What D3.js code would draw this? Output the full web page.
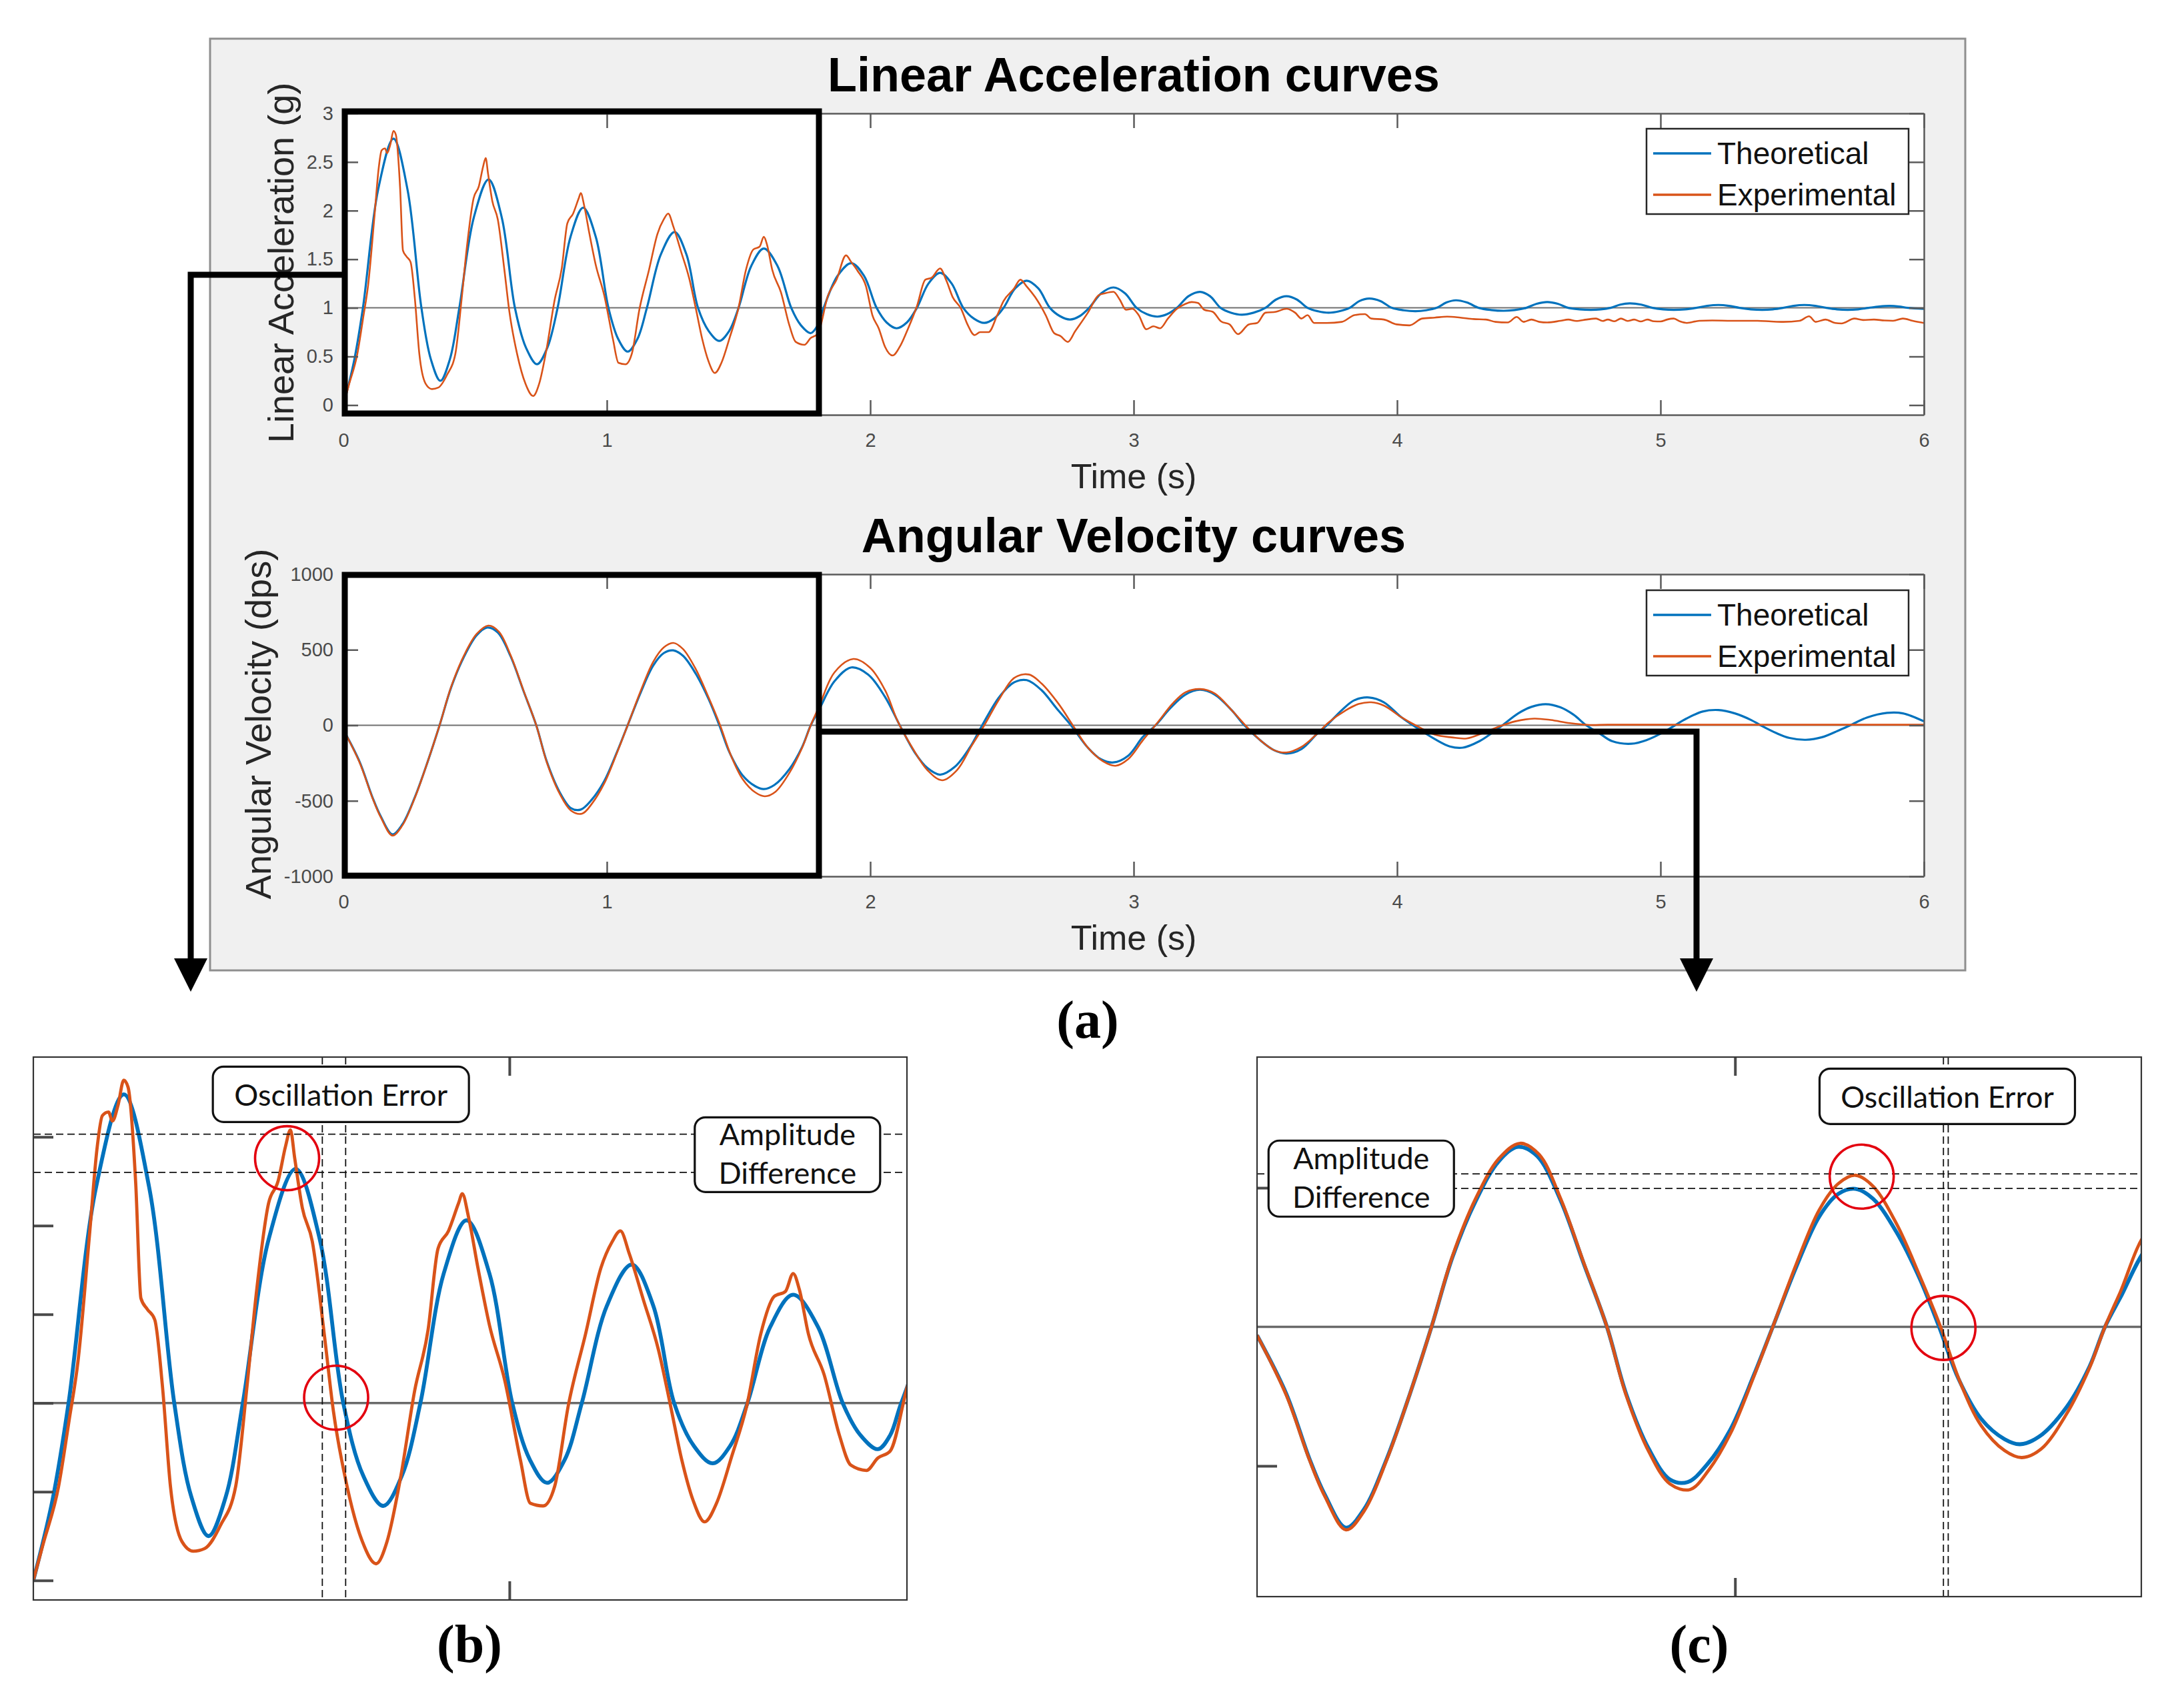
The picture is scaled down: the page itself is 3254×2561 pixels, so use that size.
<!DOCTYPE html>
<html><head><meta charset="utf-8">
<script src="https://cdn.jsdelivr.net/npm/d3@7"></script>
<style>body{margin:0;background:#fff}svg{display:block}</style>
</head><body>
<svg id="fig" width="3254" height="2561"></svg>
<script>
// ---------------- DATA ----------------
const timeTicks = [0, 1, 2, 3, 4, 5, 6];
const accTicks = [0, 0.5, 1, 1.5, 2, 2.5, 3];
const velTicks = [-1000, -500, 0, 500, 1000];
const zoomAccTicks = [0, 0.5, 1, 1.5, 2, 2.5];
const zoomVelTicks = [-500, 500];
const zoomTimeTicks = [1];
const legendLabels = ["Theoretical", "Experimental"];
const seriesColors = ["#0072BD", "#D95319"];
const plotTitles = ["Linear Acceleration curves", "Angular Velocity curves"];
const axisLabels = ["Linear Acceleration (g)", "Angular Velocity (dps)", "Time (s)"];
const panelLabels = ["(a)", "(b)", "(c)"];
const annotationTexts = [["Oscillation Error"], ["Amplitude", "Difference"]];

const accTheoretical = [
[0,0.0],[0.04,0.45],[0.074,1.0],[0.132,2.22],[0.19,2.74],[0.243,2.22],[0.296,1.0],[0.332,0.47],[0.368,0.25],[0.404,0.47],[0.44,1.0],
[0.495,1.93],[0.551,2.32],[0.601,1.93],[0.651,1.0],[0.693,0.59],[0.735,0.42],[0.774,0.59],[0.813,1.0],[0.862,1.73],[0.91,2.03],
[0.958,1.73],[1.006,1.0],[1.043,0.68],[1.079,0.55],[1.116,0.68],[1.152,1.0],[1.205,1.55],[1.257,1.78],[1.302,1.55],[1.346,1.0],
[1.387,0.76],[1.427,0.66],[1.464,0.76],[1.50,1.0],[1.548,1.43],[1.596,1.61],[1.648,1.43],[1.70,1.0],[1.737,0.82],[1.774,0.74],
[1.80,0.82],[1.823,1.0],[1.876,1.33],[1.928,1.46],[1.976,1.33],[2.024,1.0],[2.062,0.85],[2.10,0.79],[2.139,0.85],[2.177,1.0],
[2.221,1.25],[2.265,1.36],[2.309,1.25],[2.353,1.0],[2.393,0.89],[2.433,0.845],[2.47,0.89],[2.506,1.0],[2.55,1.2],[2.594,1.28],
[2.638,1.2],[2.682,1.0],[2.72,0.915],[2.758,0.88],[2.795,0.915],[2.831,1.0],[2.877,1.15],[2.923,1.21],[2.967,1.15],[3.011,1.0],
[3.05,0.935],[3.09,0.91],[3.127,0.935],[3.164,1.0],[3.208,1.12],[3.252,1.165],[3.29,1.12],[3.33,1.0],[3.37,0.95],[3.41,0.93],
[3.455,0.95],[3.50,1.0],[3.54,1.085],[3.58,1.12],[3.62,1.085],[3.66,1.0],[3.70,0.965],[3.74,0.95],[3.78,0.965],[3.82,1.0],
[3.857,1.07],[3.894,1.096],[3.937,1.07],[3.98,1.0],[4.025,0.975],[4.07,0.966],[4.11,0.975],[4.15,1.0],[4.187,1.055],[4.223,1.078],
[4.265,1.055],[4.31,1.0],[4.357,0.978],[4.405,0.97],[4.447,0.978],[4.49,1.0],[4.53,1.042],[4.57,1.06],[4.61,1.042],[4.65,1.0],
[4.693,0.985],[4.736,0.98],[4.773,0.985],[4.81,1.0],[4.847,1.033],[4.883,1.046],[4.927,1.033],[4.97,1.0],[5.01,0.985],[5.05,0.98],
[5.093,0.985],[5.135,1.0],[5.177,1.021],[5.22,1.03],[5.26,1.021],[5.30,1.0],[5.343,0.985],[5.387,0.98],[5.426,0.985],[5.465,1.0],
[5.505,1.021],[5.546,1.03],[5.588,1.021],[5.63,1.0],[5.67,0.985],[5.71,0.98],[5.75,0.985],[5.79,1.0],[5.83,1.014],[5.87,1.02],
[5.905,1.014],[5.94,1.0],[6.0,0.99]
];

const accExperimental = [
[0,0.0],[0.02,0.2],[0.053,0.53],[0.075,0.9],[0.094,1.24],[0.118,1.95],[0.134,2.44],[0.145,2.62],[0.158,2.64],[0.166,2.59],
[0.178,2.68],[0.19,2.82],[0.199,2.78],[0.215,2.24],[0.226,1.59],[0.239,1.53],[0.255,1.47],[0.271,1.10],[0.288,0.53],[0.312,0.22],
[0.336,0.165],[0.36,0.18],[0.393,0.31],[0.425,0.53],[0.449,1.10],[0.468,1.61],[0.494,2.125],[0.514,2.25],[0.53,2.45],[0.54,2.54],
[0.549,2.38],[0.565,2.10],[0.586,1.91],[0.611,1.39],[0.63,0.96],[0.659,0.53],[0.691,0.22],[0.72,0.094],[0.743,0.22],[0.772,0.59],
[0.801,1.07],[0.829,1.41],[0.85,1.87],[0.872,1.97],[0.893,2.125],[0.901,2.18],[0.914,2.05],[0.934,1.76],[0.958,1.44],[0.99,1.13],
[1.023,0.68],[1.044,0.435],[1.071,0.42],[1.095,0.53],[1.124,0.99],[1.16,1.39],[1.192,1.76],[1.216,1.91],[1.233,1.97],[1.252,1.84],
[1.281,1.585],[1.313,1.30],[1.338,0.99],[1.362,0.68],[1.386,0.45],[1.41,0.33],[1.435,0.435],[1.467,0.70],[1.499,0.99],[1.528,1.39],
[1.556,1.60],[1.58,1.63],[1.596,1.73],[1.609,1.64],[1.628,1.39],[1.661,1.16],[1.693,0.82],[1.717,0.65],[1.75,0.62],[1.774,0.69],
[1.80,0.73],[1.84,1.13],[1.872,1.29],[1.908,1.54],[1.928,1.47],[1.952,1.38],[1.984,1.22],[2.008,0.925],[2.032,0.79],[2.056,0.60],
[2.085,0.51],[2.112,0.60],[2.144,0.79],[2.177,1.016],[2.209,1.29],[2.233,1.31],[2.265,1.405],[2.289,1.28],[2.313,1.11],[2.345,0.99],
[2.369,0.83],[2.396,0.72],[2.417,0.75],[2.449,0.75],[2.482,0.925],[2.506,1.07],[2.546,1.20],[2.57,1.29],[2.594,1.22],[2.626,1.11],
[2.666,0.925],[2.698,0.74],[2.722,0.71],[2.75,0.65],[2.778,0.76],[2.826,0.95],[2.867,1.13],[2.891,1.15],[2.923,1.165],[2.947,1.085],
[2.971,0.98],[2.995,0.99],[3.019,0.925],[3.048,0.78],[3.075,0.81],[3.10,0.79],[3.13,0.89],[3.164,0.99],[3.196,1.04],[3.22,1.06],
[3.244,1.05],[3.268,0.98],[3.30,0.96],[3.332,0.86],[3.364,0.83],[3.396,0.73],[3.437,0.83],[3.469,0.845],[3.50,0.95],[3.54,0.96],
[3.58,0.99],[3.613,0.95],[3.637,0.89],[3.66,0.925],[3.685,0.845],[3.733,0.845],[3.79,0.856],[3.838,0.925],[3.878,0.936],[3.902,0.89],
[3.95,0.88],[3.998,0.83],[4.047,0.82],[4.095,0.89],[4.143,0.90],[4.19,0.91],[4.24,0.90],[4.29,0.885],[4.337,0.88],[4.374,0.856],
[4.42,0.85],[4.454,0.906],[4.48,0.856],[4.51,0.88],[4.54,0.856],[4.57,0.85],[4.62,0.867],[4.65,0.88],[4.68,0.865],[4.72,0.88],
[4.755,0.89],[4.78,0.865],[4.80,0.88],[4.825,0.862],[4.85,0.89],[4.875,0.865],[4.90,0.88],[4.925,0.86],[4.95,0.88],[4.975,0.862],
[5.0,0.86],[5.025,0.88],[5.05,0.89],[5.075,0.86],[5.10,0.845],[5.147,0.867],[5.196,0.87],[5.27,0.867],[5.368,0.867],[5.42,0.86],
[5.466,0.856],[5.528,0.867],[5.564,0.913],[5.589,0.856],[5.626,0.88],[5.663,0.845],[5.687,0.84],[5.736,0.89],[5.77,0.875],[5.81,0.88],
[5.85,0.87],[5.883,0.867],[5.92,0.89],[5.957,0.867],[6.0,0.845]
];

const velTheoretical = [
[0,-30],[0.061,-240],[0.11,-476],[0.142,-604],[0.186,-722],[0.223,-658],[0.271,-476],[0.32,-240],[0.365,0],[0.409,251],
[0.457,451],[0.506,596],[0.546,647],[0.586,614],[0.635,455],[0.684,225],[0.732,0],[0.772,-240],[0.82,-440],[0.864,-549],
[0.901,-558],[0.942,-494],[0.99,-370],[1.039,-175],[1.079,0],[1.128,215],[1.176,396],[1.216,478],[1.252,496],[1.289,460],
[1.338,340],[1.386,175],[1.427,0],[1.467,-185],[1.515,-331],[1.564,-404],[1.596,-422],[1.636,-395],[1.693,-290],[1.741,-145],
[1.774,0],[1.806,105],[1.864,291],[1.928,383],[1.992,336],[2.056,188],[2.112,0],[2.169,-180],[2.217,-283],[2.265,-327],
[2.321,-275],[2.377,-150],[2.425,0],[2.49,188],[2.546,284],[2.594,299],[2.65,233],[2.706,115],[2.762,0],[2.827,-150],
[2.875,-224],[2.923,-246],[2.979,-202],[3.035,-77],[3.083,0],[3.14,115],[3.196,203],[3.252,235],[3.308,203],[3.372,100],
[3.42,0],[3.485,-106],[3.533,-165],[3.58,-187],[3.637,-157],[3.693,-62],[3.733,0],[3.79,100],[3.838,166],[3.894,184],
[3.95,152],[4.014,56],[4.06,0],[4.143,-91],[4.20,-140],[4.25,-148],[4.313,-105],[4.362,-49],[4.40,0],[4.46,79],
[4.51,122],[4.564,140],[4.62,119],[4.67,70],[4.718,0],[4.767,-52],[4.816,-105],[4.89,-122],[4.95,-96],[5.0,-56],
[5.055,0],[5.098,44],[5.16,91],[5.22,101],[5.282,79],[5.344,35],[5.38,0],[5.44,-52],[5.49,-84],[5.552,-96],
[5.613,-79],[5.675,-35],[5.72,0],[5.785,52],[5.86,82],[5.92,79],[6.0,26]
];

const velExperimental = [
[0,-30],[0.061,-245],[0.11,-480],[0.142,-610],[0.186,-730],[0.223,-665],[0.271,-480],[0.32,-240],[0.365,0],[0.409,255],
[0.457,460],[0.506,605],[0.55,660],[0.59,620],[0.635,462],[0.684,228],[0.732,0],[0.772,-245],[0.82,-450],[0.864,-565],
[0.906,-585],[0.945,-515],[0.99,-385],[1.039,-180],[1.079,0],[1.128,225],[1.176,420],[1.216,515],[1.252,545],[1.289,505],
[1.338,370],[1.386,185],[1.43,0],[1.47,-195],[1.515,-355],[1.564,-445],[1.60,-470],[1.64,-440],[1.693,-315],[1.741,-150],
[1.774,0],[1.806,125],[1.864,350],[1.936,439],[2.0,380],[2.056,233],[2.104,27],[2.16,-150],[2.217,-297],[2.273,-364],
[2.329,-297],[2.385,-135],[2.433,0],[2.49,174],[2.546,313],[2.602,336],[2.65,277],[2.714,144],[2.77,-3],[2.827,-150],
[2.883,-238],[2.931,-268],[2.979,-224],[3.035,-99],[3.091,19],[3.148,144],[3.196,218],[3.252,240],[3.308,210],[3.372,100],
[3.429,-10],[3.485,-106],[3.533,-165],[3.58,-180],[3.637,-143],[3.693,-62],[3.74,19],[3.806,100],[3.854,141],[3.902,152],
[3.95,130],[4.014,56],[4.07,0],[4.143,-62],[4.207,-80],[4.264,-87],[4.325,-52],[4.387,-9],[4.448,26],[4.52,44],
[4.583,35],[4.656,14],[4.73,2],[4.8,4],[5.0,4],[5.5,4],[6.0,4]
];

// annotation readings (panel b: acceleration, panel c: angular velocity)
const accAmplitudeLines = [2.515, 2.30];
const accOscillationLines = [0.607, 0.656];
const accCircles = [[0.533, 2.38], [0.636, 1.03]];
const velAmplitudeLines = [550, 498];
const velOscillationLines = [1.436, 1.446];
const velCircles = [[1.265, 540], [1.436, -4]];

// ---------------- DRAWING ----------------
const FONT = "'Liberation Sans', Arial, Helvetica, sans-serif";
const SERIF = "'Liberation Serif', 'Times New Roman', serif";
const CAL = "Lato, 'Open Sans', sans-serif";
const svg = d3.select("#fig");
const defs = svg.append("defs");
const smooth = d3.curveCatmullRom.alpha(0.5);

svg.append("rect").attr("x", 315).attr("y", 58).attr("width", 2632).attr("height", 1397)
  .attr("fill", "#f0f0f0").attr("stroke", "#8f8f8f").attr("stroke-width", 3);

function styleAxis(sel, showText) {
  sel.select(".domain").attr("stroke", "#5a5a5a").attr("stroke-width", 2.5);
  sel.selectAll(".tick line").attr("stroke", "#5a5a5a").attr("stroke-width", 2.5);
  sel.selectAll(".tick text").attr("fill", "#4a4a4a")
    .style("font-family", FONT).style("font-size", "29px");
  if (!showText) sel.selectAll(".tick text").remove();
}

function mainPlot(o) {
  const L = 515, R = 2885;
  const x = d3.scaleLinear().domain([0, 6]).range([L, R]);
  const y = d3.scaleLinear().domain(o.yDomain).range([o.bottom, o.top]);
  const g = svg.append("g");
  g.append("rect").attr("x", L).attr("y", o.top).attr("width", R - L).attr("height", o.bottom - o.top).attr("fill", "#fff");
  const cid = "clip-" + o.key;
  defs.append("clipPath").attr("id", cid).append("rect")
    .attr("x", L).attr("y", o.top).attr("width", R - L).attr("height", o.bottom - o.top);
  g.append("line").attr("x1", L).attr("x2", R).attr("y1", y(o.ref)).attr("y2", y(o.ref))
    .attr("stroke", "#707070").attr("stroke-width", 2);
  [o.theo, o.expt].forEach((s, i) => {
    const line = d3.line().x(d => x(d[0])).y(d => y(d[1])).curve(o.curves[i]);
    g.append("path").datum(s).attr("d", line).attr("fill", "none")
      .attr("stroke", seriesColors[i]).attr("stroke-width", i ? 2.6 : 3.2)
      .attr("stroke-linejoin", "round").attr("clip-path", `url(#${cid})`);
  });
  const fmt = d => String(d);
  g.append("g").attr("transform", `translate(0,${o.bottom})`)
    .call(d3.axisBottom(x).tickValues(timeTicks).tickFormat(fmt).tickSizeInner(-22).tickSizeOuter(0).tickPadding(27))
    .call(s => styleAxis(s, true));
  g.append("g").attr("transform", `translate(0,${o.top})`)
    .call(d3.axisTop(x).tickValues(timeTicks).tickSizeInner(-22).tickSizeOuter(0))
    .call(s => styleAxis(s, false));
  g.append("g").attr("transform", `translate(${L},0)`)
    .call(d3.axisLeft(y).tickValues(o.yTicks).tickFormat(fmt).tickSizeInner(-22).tickSizeOuter(0).tickPadding(15))
    .call(s => styleAxis(s, true));
  g.append("g").attr("transform", `translate(${R},0)`)
    .call(d3.axisRight(y).tickValues(o.yTicks).tickSizeInner(-22).tickSizeOuter(0))
    .call(s => styleAxis(s, false));

  // legend
  const lg = g.append("g");
  lg.append("rect").attr("x", 2469).attr("y", o.legendTop).attr("width", 393).attr("height", 128)
    .attr("fill", "#fff").attr("stroke", "#262626").attr("stroke-width", 2.5);
  legendLabels.forEach((lab, i) => {
    const cy = o.legendTop + 37 + i * 62;
    lg.append("line").attr("x1", 2479).attr("x2", 2566).attr("y1", cy).attr("y2", cy)
      .attr("stroke", seriesColors[i]).attr("stroke-width", 3.5);
    lg.append("text").attr("x", 2575).attr("y", cy + 16).text(lab)
      .style("font-family", FONT).style("font-size", "46px").attr("fill", "#111");
  });

  // title and labels
  g.append("text").attr("x", (L + R) / 2).attr("y", o.top - 33).attr("text-anchor", "middle")
    .text(o.title).style("font-family", FONT).style("font-size", "72px").style("font-weight", "bold").attr("fill", "#000");
  g.append("text").attr("x", (L + R) / 2).attr("y", o.bottom + 110).attr("text-anchor", "middle")
    .text(axisLabels[2]).style("font-family", FONT).style("font-size", "52px").attr("fill", "#262626");
  g.append("text").attr("transform", `translate(${o.ylabelX},${(o.top + o.bottom) / 2 - 2}) rotate(-90)`)
    .attr("text-anchor", "middle").text(o.ylabel)
    .style("font-family", FONT).style("font-size", "54px").attr("fill", "#262626");
  return { x, y };
}

const accCurves = [smooth, d3.curveMonotoneX];
const velCurves = [smooth, smooth];

const p1 = mainPlot({ key: "acc", top: 170, bottom: 622, yDomain: [-0.1, 3], yTicks: accTicks, ref: 1, curves: accCurves,
  theo: accTheoretical, expt: accExperimental, title: plotTitles[0], ylabel: axisLabels[0], ylabelX: 440, legendTop: 193 });
const p2 = mainPlot({ key: "vel", top: 861, bottom: 1314, yDomain: [-1000, 1000], yTicks: velTicks, ref: 0, curves: velCurves,
  theo: velTheoretical, expt: velExperimental, title: plotTitles[1], ylabel: axisLabels[1], ylabelX: 406, legendTop: 885 });

// highlight boxes and arrows
const ov = svg.append("g").attr("fill", "none").attr("stroke", "#000").attr("stroke-width", 9);
ov.append("rect").attr("x", p1.x(0) + 2).attr("y", 167).attr("width", 711).attr("height", 453);
ov.append("rect").attr("x", p2.x(0) + 2).attr("y", 862).attr("width", 711).attr("height", 451);
ov.append("path").attr("d", `M${p1.x(0) + 2},412 H286 V1442`);
ov.append("path").attr("d", `M1229,1097 H2544 V1442`);
svg.append("path").attr("d", "M261,1437 L311,1437 L286,1487 Z").attr("fill", "#000");
svg.append("path").attr("d", "M2519,1437 L2569,1437 L2544,1487 Z").attr("fill", "#000");

// ---------------- ZOOM PANELS ----------------
function zoomPanel(o) {
  const x = d3.scaleLinear().domain(o.xDomain).range([o.x0, o.x1]);
  const y = d3.scaleLinear().domain(o.yDomain).range([o.y1, o.y0]);
  const W = o.x1 - o.x0, H = o.y1 - o.y0;
  const g = svg.append("g");
  g.append("rect").attr("x", o.x0).attr("y", o.y0).attr("width", W).attr("height", H).attr("fill", "#fff");
  const cid = "clip-" + o.key;
  defs.append("clipPath").attr("id", cid).append("rect").attr("x", o.x0).attr("y", o.y0).attr("width", W).attr("height", H);
  g.append("line").attr("x1", o.x0).attr("x2", o.x1).attr("y1", y(o.ref)).attr("y2", y(o.ref))
    .attr("stroke", "#6a6a6a").attr("stroke-width", 3.5);
  [o.theo, o.expt].forEach((s, i) => {
    const line = d3.line().x(d => x(d[0])).y(d => y(d[1])).curve(o.curves[i]);
    g.append("path").datum(s).attr("d", line).attr("fill", "none")
      .attr("stroke", seriesColors[i]).attr("stroke-width", i ? 4.8 : 5.8)
      .attr("stroke-linejoin", "round").attr("clip-path", `url(#${cid})`);
  });
  // dashed guide lines
  o.amp.forEach(v => g.append("line").attr("x1", o.x0).attr("x2", o.x1).attr("y1", y(v)).attr("y2", y(v))
    .attr("stroke", "#111").attr("stroke-width", 1.8).attr("stroke-dasharray", "11,6"));
  o.osc.forEach(t => g.append("line").attr("x1", x(t)).attr("x2", x(t)).attr("y1", o.y0).attr("y2", o.y1)
    .attr("stroke", "#111").attr("stroke-width", 1.8).attr("stroke-dasharray", "11,6"));
  // ticks
  const none = () => "";
  const tickStyle = s => { s.select(".domain").remove(); s.selectAll(".tick line").attr("stroke", "#4a4a4a").attr("stroke-width", 4); };
  g.append("g").attr("transform", `translate(${o.x0},0)`)
    .call(d3.axisLeft(y).tickValues(o.yTicks).tickFormat(none).tickSizeInner(-30).tickSizeOuter(0)).call(tickStyle);
  g.append("g").attr("transform", `translate(0,${o.y0})`)
    .call(d3.axisTop(x).tickValues(zoomTimeTicks).tickFormat(none).tickSizeInner(-28).tickSizeOuter(0)).call(tickStyle);
  g.append("g").attr("transform", `translate(0,${o.y1})`)
    .call(d3.axisBottom(x).tickValues(zoomTimeTicks).tickFormat(none).tickSizeInner(-28).tickSizeOuter(0)).call(tickStyle);
  g.append("rect").attr("x", o.x0).attr("y", o.y0).attr("width", W).attr("height", H)
    .attr("fill", "none").attr("stroke", "#333").attr("stroke-width", 2.2);
  // text boxes
  o.boxes.forEach(b => {
    const cx = x(b.t), cy = y(b.v);
    g.append("rect").attr("x", cx - b.w / 2).attr("y", cy - b.h / 2).attr("width", b.w).attr("height", b.h)
      .attr("rx", 16).attr("fill", "#fff").attr("stroke", "#111").attr("stroke-width", 3.2);
    const lines = annotationTexts[b.idx];
    lines.forEach((s, k) => {
      const yy = lines.length === 1 ? cy + 17 : cy - 14 + k * 58;
      g.append("text").attr("x", cx).attr("y", yy).attr("text-anchor", "middle").text(s)
        .style("font-family", CAL).style("font-size", "45px").attr("fill", "#111");
    });
  });
  // red circles
  o.circles.forEach(c => g.append("circle").attr("cx", x(c[0])).attr("cy", y(c[1])).attr("r", 48)
    .attr("fill", "none").attr("stroke", "#e3000f").attr("stroke-width", 3.6));
}

zoomPanel({ key: "b", x0: 50, x1: 1360, y0: 1585, y1: 2399, xDomain: [0, 1.835], yDomain: [-0.11, 2.95],
  theo: accTheoretical, expt: accExperimental, ref: 1, yTicks: zoomAccTicks, curves: accCurves,
  amp: accAmplitudeLines, osc: accOscillationLines, circles: accCircles,
  boxes: [{ idx: 0, t: 0.646, v: 2.74, w: 384, h: 83 }, { idx: 1, t: 1.584, v: 2.40, w: 278, h: 112 }] });

zoomPanel({ key: "c", x0: 1885, x1: 3211, y0: 1585, y1: 2394, xDomain: [0, 1.85], yDomain: [-970, 970],
  theo: velTheoretical, expt: velExperimental, ref: 0, yTicks: zoomVelTicks, curves: velCurves,
  amp: velAmplitudeLines, osc: velOscillationLines, circles: velCircles,
  boxes: [{ idx: 1, t: 0.218, v: 533, w: 278, h: 114 }, { idx: 0, t: 1.444, v: 829, w: 383, h: 83 }] });

// panel labels
[[1631, 1556], [704, 2492], [2548, 2492]].forEach((p, i) => {
  svg.append("text").attr("x", p[0]).attr("y", p[1]).attr("text-anchor", "middle").text(panelLabels[i])
    .style("font-family", SERIF).style("font-size", "80px").style("font-weight", "bold").attr("fill", "#000");
});
</script>
</body></html>
